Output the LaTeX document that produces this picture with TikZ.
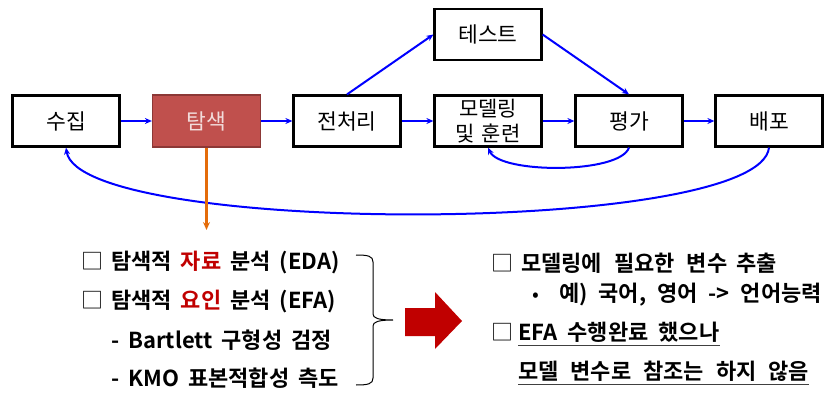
\documentclass[tikz,border=0pt]{standalone}
\usepackage{fontspec}
\setmainfont{Noto Sans CJK KR}
\newfontfamily\krb{Noto Sans CJK KR}[UprightFont=* Bold]
\newcommand\gapw{\hspace{9pt}}
\newcommand\gapn{\hspace{11pt}}
\newcommand\gapx{\hspace{12pt}}
\usetikzlibrary{arrows.meta}
\definecolor{exred}{RGB}{192,80,77}
\definecolor{exborder}{RGB}{140,56,54}
\definecolor{exorange}{RGB}{228,108,10}
\definecolor{darkred}{RGB}{192,0,0}
\tikzset{
  stagebox/.style={draw=black, line width=2.2pt, fill=white, minimum width=107pt, minimum height=51pt, inner sep=0pt, font=\fontsize{21.5}{22}\selectfont, align=center},
  hotbox/.style={stagebox, fill=exred, draw=exborder, line width=1.2pt, minimum width=108pt, minimum height=52pt, text={rgb,255:red,242;green,220;blue,219}},
  flow/.style={draw=blue, line width=2pt, -{Stealth[length=7pt,width=6pt]}},
  listtext/.style={anchor=west, inner sep=0pt, font=\krb\fontsize{22}{23}\selectfont},
  ulline/.style={draw={rgb,255:red,64;green,64;blue,64}, line width=1.2pt},
}
\begin{document}
\begin{tikzpicture}[x=1pt,y=-1pt]
\useasboundingbox (0,0) rectangle (825,393);
% boxes
\node[stagebox] (collect) at (66,121) {수집};
\node[hotbox] (explore) at (206.5,121) {탐색};
\node[stagebox] (prep) at (347,121) {전처리};
\node[stagebox] (test) at (488,34.5) {테스트};
\node[stagebox, font=\fontsize{21}{25}\selectfont] (model) at (488,121) {모델링\\및\hspace{7pt}훈련};
\node[stagebox] (eval) at (629,121) {평가};
\node[stagebox] (deploy) at (769,121) {배포};
% connectors
\draw[flow] (collect) -- (explore);
\draw[flow] (explore) -- (prep);
\draw[flow] (prep) -- (model);
\draw[flow] (model) -- (eval);
\draw[flow] (eval) -- (deploy);
\draw[flow] (prep.north) -- (test.west);
\draw[flow] (test.east) -- (eval.north);
\draw[flow] (eval.south) .. controls (620,174) and (500,174) .. (model.south);
\draw[flow] (deploy.south) .. controls (760,236) and (80,236) .. (collect.south);
\coordinate (drop) at (206.5,230);
\draw[draw=exorange, line width=2.2pt, -{Stealth[length=8pt,width=7pt]}] (explore.south) -- (drop);
% left list
\node[listtext] (l1) at (81,263) {{\normalfont □}\hspace{8pt}탐색적\gapw{\color{darkred}자료}\gapw 분석\gapw(EDA)};
\node[listtext] (l2) at (81,302) {{\normalfont □}\hspace{8pt}탐색적\gapw{\color{darkred}요인}\gapw 분석\gapw(EFA)};
\node[listtext] (l3) at (111,340) {-\hspace{9pt}Bartlett\gapw 구형성\gapw 검정};
\node[listtext] (l4) at (111,378) {-\hspace{9pt}KMO\gapw 표본적합성\gapw 측도};
% brace
\draw[line width=1pt] (356,255) .. controls (368,255) and (373,256) .. (373,262) -- (373,314) .. controls (373,318) and (378,320) .. (393,320) .. controls (378,320) and (373,322) .. (373,326) -- (373,378) .. controls (373,384) and (368,385) .. (356,385);
% big arrow
\fill[darkred] (405,308) -- (435,308) -- (435,292) -- (462,321) -- (435,349) -- (435,336) -- (405,336) -- cycle;
% right list
\node[listtext] (r1) at (491,263) {{\normalfont □}\hspace{8pt}모델링에\gapx 필요한\gapx 변수\gapw 추출};
\node[listtext] (r2) at (532,295) {{\normalfont\fontsize{20}{20}\selectfont •}\hspace{20pt}예)\gapn 국어,\gapn 영어\gapn ->\gapn 언어능력};
\node[listtext] (r3box) at (491,332) {\normalfont □};
\node[listtext] (r3) at (518,332) {EFA\hspace{10pt}수행완료\hspace{10pt}했으나};
\node[listtext] (r4) at (518,371) {모델\gapx 변수로\gapx 참조는\gapx 하지\gapx 않음};
\draw[ulline] ([yshift=-5pt]r3.base west) -- ([yshift=-5pt]r3.base east);
\draw[ulline] ([yshift=-5pt]r4.base west) -- ([yshift=-5pt]r4.base east);
\end{tikzpicture}
\end{document}
